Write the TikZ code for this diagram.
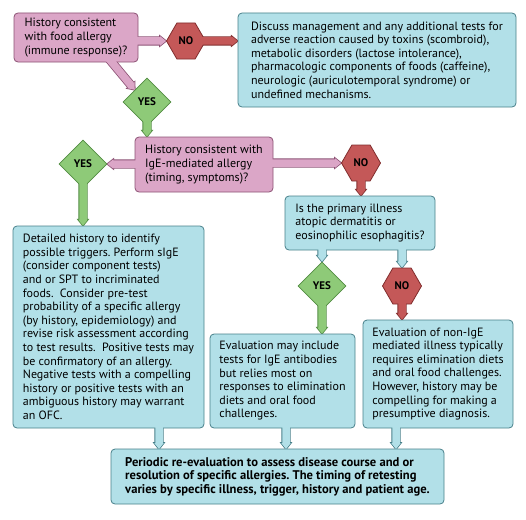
\documentclass[tikz,border=0pt]{standalone}
\usepackage{fontspec}
\setmainfont{PT Sans}
\usetikzlibrary{calc,positioning,shapes.geometric,shapes.symbols}
\definecolor{askfill}{RGB}{219,166,199}
\definecolor{askline}{RGB}{140,82,116}
\definecolor{infofill}{RGB}{178,224,232}
\definecolor{infoline}{RGB}{72,128,138}
\definecolor{yesfill}{RGB}{142,202,120}
\definecolor{yesline}{RGB}{82,140,66}
\definecolor{nofill}{RGB}{196,88,88}
\definecolor{noline}{RGB}{128,44,44}
\pgfdeclarelayer{background}
\pgfsetlayers{background,main}
% callout pointer: #1 colour family, #2 start (on the source), #3 tip
\newcommand{\pointer}[3]{%
 \begin{pgfonlayer}{background}
 \filldraw[draw=#1line,fill=#1line,line width=1.6pt]
  let \p1=($#3-#2$), \n1={atan2(\y1,\x1)}, \n2={veclen(\x1,\y1)} in
  [shift={#2},rotate=\n1] (-6pt,-3.75pt) -- ({\n2*1pt-6pt},-3.75pt) -- ({\n2*1pt-6pt},-4.75pt)
  -- ({\n2*1pt},0pt) -- ({\n2*1pt-6pt},4.75pt) -- ({\n2*1pt-6pt},3.75pt) -- (-6pt,3.75pt) -- cycle;
 \end{pgfonlayer}
 \fill[#1fill]
  let \p1=($#3-#2$), \n1={atan2(\y1,\x1)}, \n2={veclen(\x1,\y1)} in
  [shift={#2},rotate=\n1] (-6pt,-3.75pt) -- ({\n2*1pt-6pt},-3.75pt) -- ({\n2*1pt-6pt},-4.75pt)
  -- ({\n2*1pt},0pt) -- ({\n2*1pt-6pt},4.75pt) -- ({\n2*1pt-6pt},3.75pt) -- (-6pt,3.75pt) -- cycle;
}

\begin{document}
\frenchspacing
\begin{tikzpicture}[x=1pt,y=-1pt,
 box/.style={rounded corners=4pt,line width=.8pt,inner xsep=0pt,inner ysep=0pt,
  align=left,font=\fontsize{12}{13.6}\selectfont},
 askbox/.style={box,draw=askline,fill=askfill},
 infobox/.style={box,draw=infoline,fill=infofill},
 yesmark/.style={diamond,draw=yesline,fill=yesfill,line width=.8pt,inner sep=0pt,
  minimum width=48pt,minimum height=48pt,font=\bfseries\fontsize{11}{12}\selectfont},
 nomark/.style={signal,signal to=east and west,signal pointer angle=120,draw=noline,fill=nofill,
  line width=.8pt,inner sep=0pt,minimum width=39pt,minimum height=36pt,
  font=\bfseries\fontsize{11}{12}\selectfont}]
\useasboundingbox (0,0) rectangle (526,519);
% Questions and answers
\node[askbox,minimum width=124pt,minimum height=49pt] (food) at (76,37.5)
 {History consistent\\with food allergy\\(immune response)?};
\node[infobox,minimum width=278pt,minimum height=94pt] (other) at (377,60)
 {Discuss management and any additional tests for\\adverse reaction caused by toxins (scombroid),\\metabolic disorders (lactose intolerance),\\pharmacologic components of foods (caffeine),\\neurologic (auriculotemporal syndrome) or\\undefined mechanisms.};
\node[nomark] (nofood) at (186,41) {NO};
\node[yesmark] (yesfood) at (147,102) {YES};
\node[askbox,minimum width=138pt,minimum height=55pt] (ige) at (204,164.5)
 {History consistent with\\IgE-mediated allergy\\(timing, symptoms)?};
\node[yesmark] (yesige) at (83,164) {YES};
\node[nomark] (noige) at (361,163) {NO};
\node[infobox,minimum width=150pt,minimum height=54pt] (primary) at (360,223)
 {Is the primary illness\\atopic dermatitis or\\eosinophilic esophagitis?};
\node[yesmark] (yesprim) at (322,286) {YES};
\node[nomark] (noprim) at (402,286) {NO};
% Evaluation boxes
\node[infobox,minimum width=191pt,minimum height=202pt] (detail) at (108.5,327)
 {Detailed history to identify\\possible triggers. Perform sIgE\\(consider component tests)\\and or SPT to incriminated\\foods.\ \ Consider pre-test\\probability of a specific allergy\\(by history, epidemiology) and\\revise risk assessment according\\to test results.\ \ Positive tests may\\be confirmatory of an allergy.\\Negative tests with a compelling\\history or positive tests with an\\ambiguous history may warrant\\an OFC.};
\node[infobox,minimum width=145pt,minimum height=94pt] (elim) at (282.5,381)
 {Evaluation may include\\tests for IgE antibodies\\but relies most on\\responses to elimination\\diets and oral food\\challenges.};
\node[infobox,minimum width=150pt,minimum height=108pt] (nonige) at (438,374)
 {Evaluation of non-IgE\\mediated illness typically\\requires elimination diets\\and oral food challenges.\\However, history may be\\compelling for making a\\presumptive diagnosis.};
\node[infobox,minimum width=333pt,minimum height=55pt,font=\bfseries\fontsize{12.6}{13.4}\selectfont] (review) at (277.5,476.5)
 {Periodic re-evaluation to assess disease course and or\\resolution of specific allergies. The timing of retesting\\varies by specific illness, trigger, history and patient age.};
\coordinate (inA) at (159,449);
\coordinate (inB) at (286,449);
\coordinate (inC) at (396,449);
% Pointers
\pointer{ask}{(food.east |- nofood.west)}{(nofood.west)}
\pointer{no}{(nofood.east)}{(other.west |- nofood.east)}
\pointer{ask}{($(food.south)+(36,0)$)}{(yesfood.north west)}
\pointer{yes}{(yesfood.south)}{(yesfood.south |- ige.north)}
\pointer{ask}{(ige.west |- yesige.east)}{(yesige.east)}
\pointer{ask}{(ige.east |- noige.west)}{(noige.west)}
\pointer{yes}{(yesige.south)}{(yesige.south |- detail.north)}
\pointer{no}{(noige.south)}{(noige.south |- primary.north)}
\pointer{info}{(primary.south -| yesprim.north)}{(yesprim.north)}
\pointer{info}{(primary.south -| noprim.north)}{(noprim.north)}
\pointer{yes}{(yesprim.south)}{(yesprim.south |- elim.north)}
\pointer{no}{(noprim.south)}{(noprim.south |- nonige.north)}
\pointer{info}{(detail.south -| inA)}{(inA)}
\pointer{info}{(elim.south -| inB)}{(inB)}
\pointer{info}{(nonige.south -| inC)}{(inC)}
\end{tikzpicture}
\end{document}
